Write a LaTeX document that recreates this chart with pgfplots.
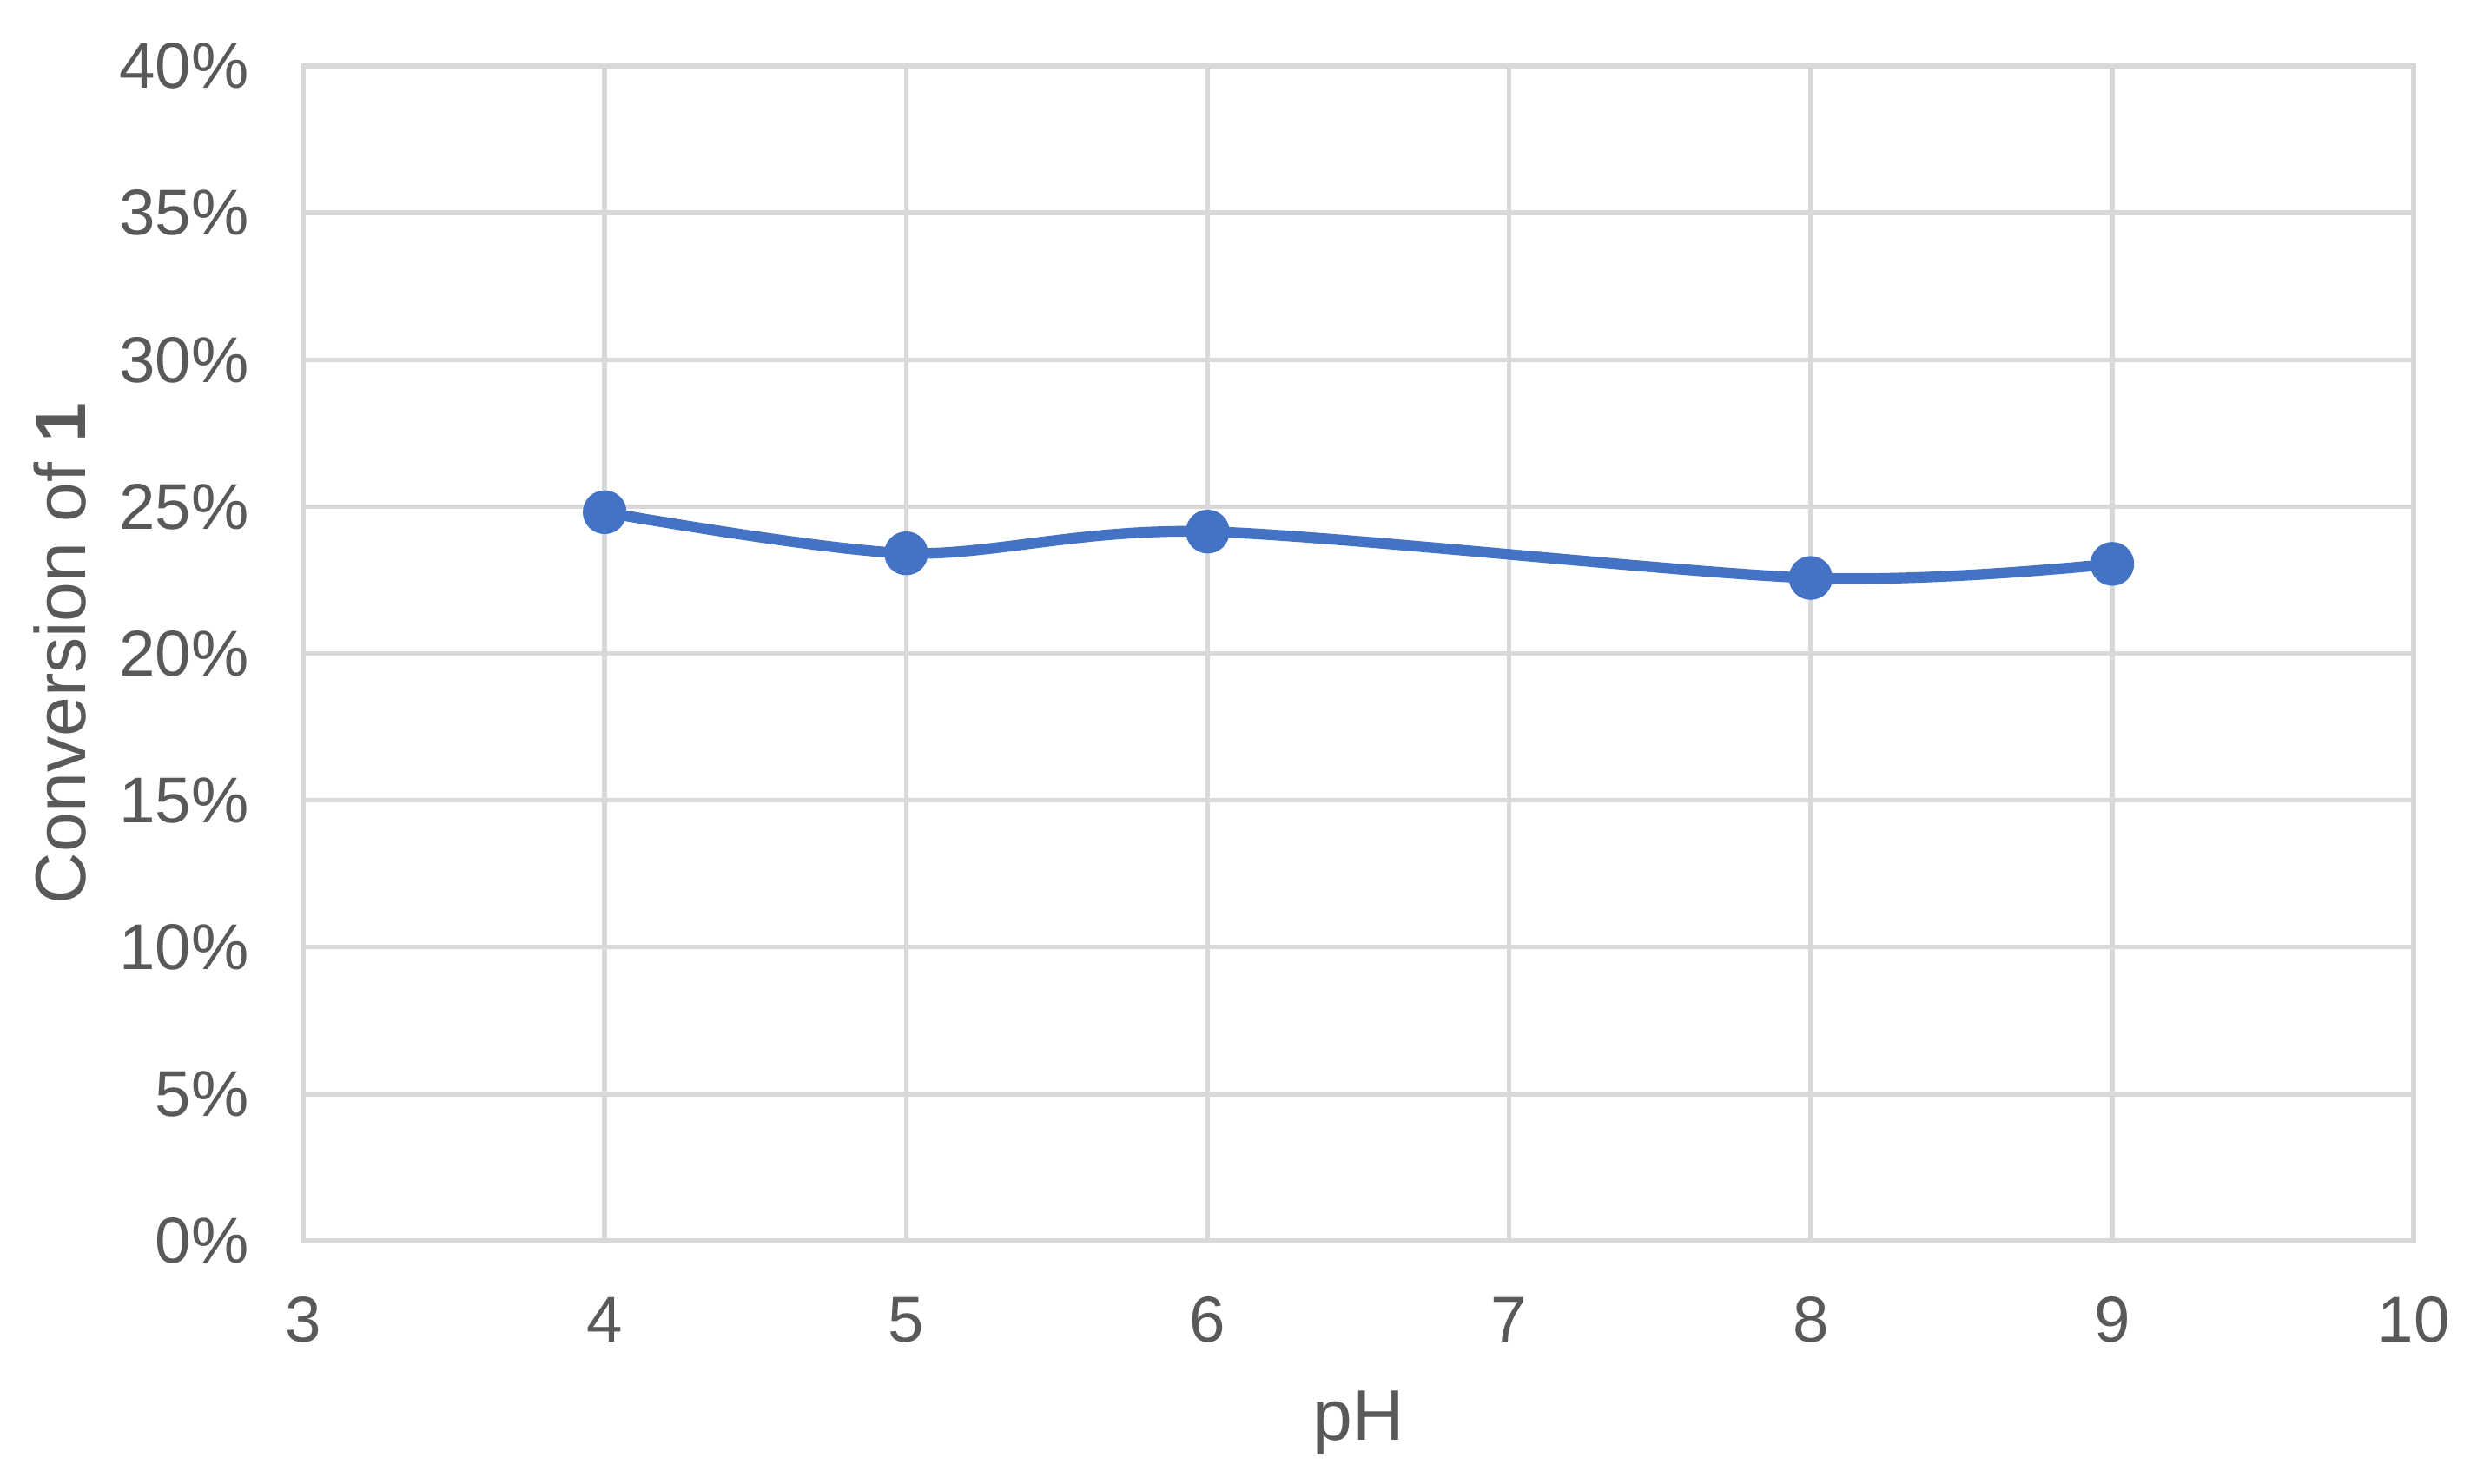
\documentclass[border=0pt]{standalone}
\usepackage{fontspec}
\setmainfont{Liberation Sans}
\usepackage{pgfplots}
\pgfplotsset{compat=1.18}
\definecolor{txt}{HTML}{595959}
\definecolor{gridc}{HTML}{D9D9D9}
\definecolor{series}{HTML}{4472C4}
\begin{document}
\begin{tikzpicture}
\useasboundingbox (-62.3pt,-50pt) rectangle (446.7pt,255pt);
\begin{axis}[
    at={(0,0)}, anchor=south west,
    scale only axis, width=433.7pt, height=241.4pt,
    xmin=3, xmax=10, ymin=0, ymax=40,
    xtick={3,4,5,6,7,8,9,10},
    ytick={0,5,10,15,20,25,30,35,40},
    grid=major,
    major grid style={gridc, line width=1pt},
    axis line style={gridc, line width=1pt},
    tick style={draw=none},
    /pgf/number format/assume math mode=true,
    ticklabel style={font=\fontsize{13.3}{16}\selectfont, text=txt},
    yticklabel={\pgfmathprintnumber{\tick}\%},
    xticklabel style={anchor=center, yshift=-16.3pt},
    yticklabel style={anchor=east, inner sep=0pt, xshift=-11pt},
    xlabel={pH},
    ylabel={Conversion of \textbf{1}},
    label style={font=\fontsize{14.7}{17}\selectfont, text=txt},
    xlabel style={at={([yshift=-37.4pt]rel axis cs:0.5,0)}, anchor=center},
    ylabel style={at={([xshift=-50pt]rel axis cs:0,0.5)}, anchor=center},
]
\addplot[series, line width=2.2pt, smooth, tension=0.5,
    mark=*, mark size=4.3pt, mark options={fill=series, draw=series, line width=0.4pt}]
coordinates {(4,24.81) (5,23.41) (6,24.15) (8,22.57) (9,23.05)};
\end{axis}
\end{tikzpicture}
\end{document}
